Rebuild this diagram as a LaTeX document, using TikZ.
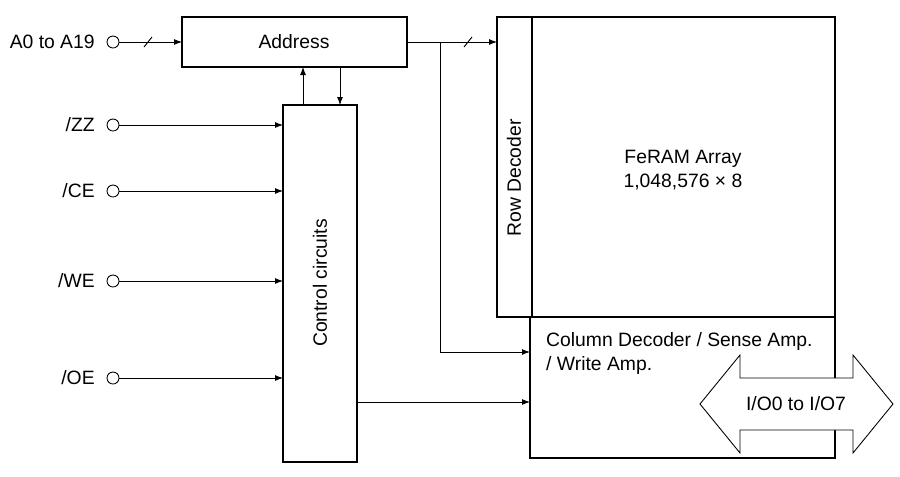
\documentclass[tikz,border=0pt]{standalone}
\usepackage{fontspec}
\setmainfont{Liberation Sans}
\usetikzlibrary{positioning,calc,arrows.meta}
\tikzset{
   every path/.style={>={Latex[length=1.6mm,width=1.2mm]}},
   blk/.style={draw,line width=0.8pt,inner sep=0pt},
   sig/.style={->,line width=0.5pt},
   pin/.style={circle,draw,line width=0.5pt,minimum size=2.4mm,inner sep=0pt},
   lab/.style={anchor=east,inner sep=0pt},
   bus/.style={line width=0.5pt},
}
\begin{document}
\begin{tikzpicture}[x=0.02cm,y=-0.02cm,font=\fontsize{11}{14}\selectfont]
      \useasboundingbox (0,0) rectangle (900,477);
      % blocks
      \draw[blk] (182,17) rectangle (407,67);
      \node (addr) at (294,42) {Address};
      \coordinate (addrW) at (182,42);
      \coordinate (addrE) at (407,42);
      \draw[blk] (283,105) rectangle (357,462);
      \node[rotate=90] (ctl) at (320,283) {Control circuits};
      \draw[blk] (497,17) rectangle (835,317);
      \draw[blk] (532,17) -- (532,317);
      \node[rotate=90] (rowdec) at (514,178) {Row Decoder};
      \node[align=center] (arr) at (683,170) {FeRAM Array\\1,048,576 × 8};
      \draw[blk] (530,317) rectangle (835,458);
      \node[align=left,anchor=north west] (coldec) at (540,326) {Column Decoder / Sense Amp.\\/ Write Amp.};
      % inputs
      \foreach \nm/\txt/\yy in {a/{A0 to A19}/42, zz/{/ZZ}/125, ce/{/CE}/191, we/{/WE}/281, oe/{/OE}/378}{
        \node[pin] (p\nm) at (113,\yy) {};
        \node[lab] (l\nm) at (95,\yy) {\txt};
      }
      \draw[sig] (pa) -- (addrW);
      \draw[bus] (144,47) -- (152,37);
      \foreach \nm/\yy in {zz/125, ce/191, we/281, oe/378}{
        \coordinate (c\nm) at (283,\yy);
        \draw[sig] (p\nm) -- (c\nm);
      }
      % address <-> control
      \draw[sig] (303,105) -- (303,67);
      \draw[sig] (340,67) -- (340,105);
      % address bus
      \coordinate (br) at (440,42);
      \draw[sig] (addrE) -- (497,42);
      \draw[bus] (464,47) -- (472,37);
      \draw[sig] (br) -- (440,352) -- (530,352);
      \draw[sig] (357,402) -- (530,402);
      % I/O arrow
      \coordinate (iw) at (700,404);
      \coordinate (ie) at (893,404);
      \draw[line width=0.5pt,fill=white] (iw) -- (740,355) -- (740,378) -- (853,378) -- (853,355)
         -- (ie) -- (853,453) -- (853,430) -- (740,430) -- (740,453) -- cycle;
      \node (io) at (796,404) {I/O0 to I/O7};
\end{tikzpicture}
\end{document}
